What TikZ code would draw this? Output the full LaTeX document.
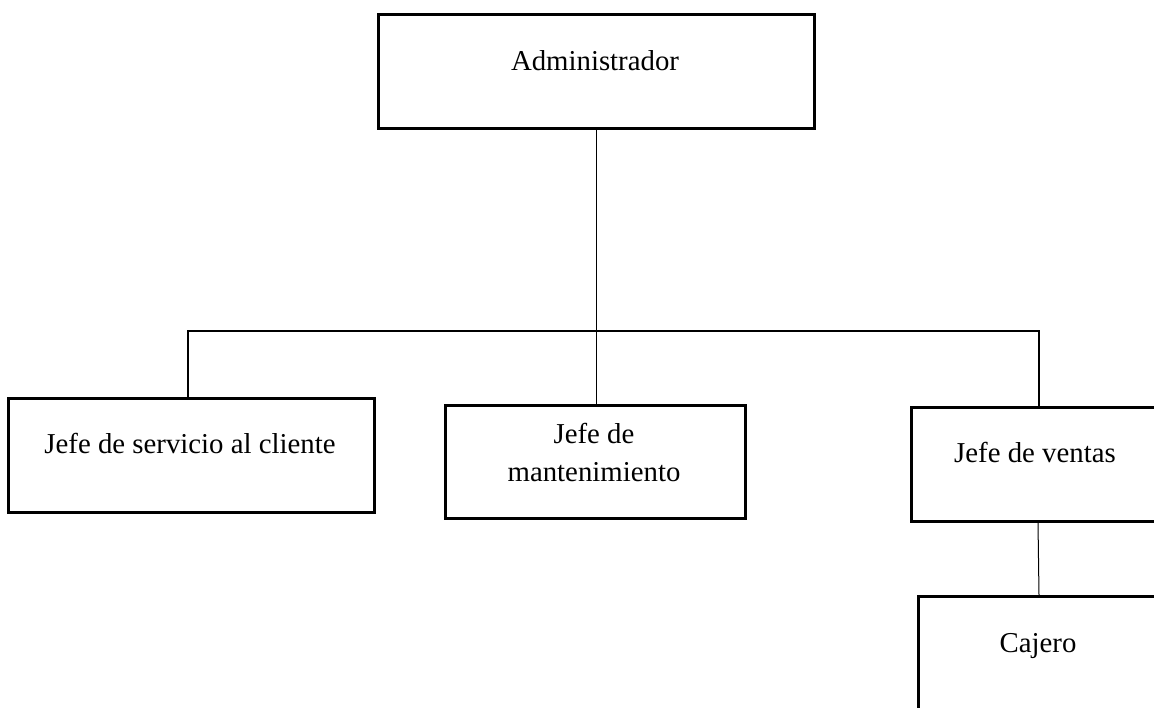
\documentclass[tikz,border=0pt]{standalone}
\usepackage{fontspec}
\setmainfont{Liberation Serif}
\begin{document}
\begin{tikzpicture}[x=1pt,y=-1pt,
  box/.style={draw=black, line width=2.8pt, rectangle, inner sep=0pt, anchor=north west},
  lbl/.style={font=\fontsize{28.8}{38}\selectfont, inner sep=0pt, align=center},
  thin/.style={draw=black, line width=1pt},
  thick/.style={draw=black, line width=2.8pt}]
\useasboundingbox (0,0) rectangle (1154,707);
\clip (0,0) rectangle (1154,707);
% boxes
\node[box, minimum width=436pt, minimum height=114pt] (adm) at (377,13) {};
\node[box, minimum width=366pt, minimum height=114pt] (serv) at (7,397) {};
\node[box, minimum width=300pt, minimum height=113pt] (mant) at (444,404) {};
\node[box, minimum width=270pt, minimum height=114pt] (vent) at (910,406) {};
\node[box, minimum width=270pt, minimum height=140pt] (caj) at (917,595) {};
% labels
\node[lbl, anchor=base] (tadm) at (595,70) {Administrador};
\node[lbl, anchor=base] (tserv) at (190,453) {Jefe de servicio al cliente};
\node[lbl, anchor=center] (tmant) at (594,452) {Jefe de\\mantenimiento};
\node[lbl, anchor=base] (tvent) at (1035,462) {Jefe de ventas};
\node[lbl, anchor=base] (tcaj) at (1038,652) {Cajero};
% connectors
\coordinate (bl) at (188,331);
\coordinate (br) at (1039,331);
\draw[thin] (596,0 |- adm.south) coordinate (admout) -- (admout |- mant.north);
\draw[thick, line cap=rect] (bl |- serv.north) -- (bl) -- (br) -- (br |- vent.north);
\draw[thin] (1038,0 |- vent.south) coordinate (ventout) -- (1039,0 |- caj.north);
\end{tikzpicture}
\end{document}
